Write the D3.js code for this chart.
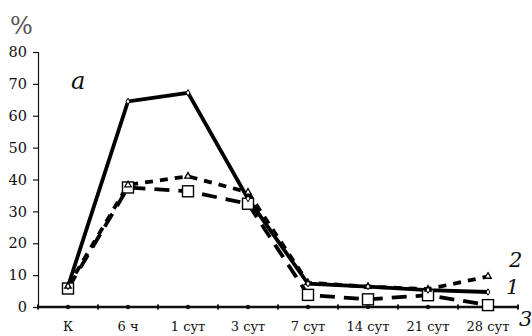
<!DOCTYPE html>
<html>
<head>
<meta charset="utf-8">
<script src="https://cdn.jsdelivr.net/npm/d3@7"></script>
<style>
  html, body { margin: 0; padding: 0; background: #fff; }
  svg { display: block; }
  text { font-family: "DejaVu Serif", "Liberation Serif", serif; fill: #111; }
</style>
</head>
<body>
<svg id="chart" width="532" height="336"></svg>
<script>
// Time points after exposure
const categories = ["К", "6 ч", "1 сут", "3 сут", "7 сут", "14 сут", "21 сут", "28 сут"];

// Series values, %
const series1 = [6.5, 64.5, 67.2, 34, 7.3, 6.4, 5.3, 4.7];
const series2 = [6.5, 38.3, 41, 36, 7.6, 6.4, 5.6, 9.6];
const series3 = [5.8, 37.5, 36.3, 32.4, 3.8, 2.4, 3.7, 0.6];

const yTicks = [0, 10, 20, 30, 40, 50, 60, 70, 80];

const svg = d3.select("#chart");
const margin = { left: 38, right: 14, top: 52, bottom: 29 };
const W = 532, H = 336;
const serif = "DejaVu Serif, Liberation Serif, serif";

const x = d3.scaleBand().domain(categories).range([margin.left, W - margin.right]);
const y = d3.scaleLinear().domain([0, 80]).range([H - margin.bottom, margin.top]);
const cx = d => x(d) + x.bandwidth() / 2;

// Y axis
const yAxis = svg.append("g")
  .attr("transform", `translate(${margin.left},0)`)
  .call(d3.axisLeft(y).tickValues(yTicks).tickSize(5).tickPadding(6));
yAxis.attr("font-family", serif);
yAxis.select(".domain").attr("stroke", "#111").attr("stroke-width", 1.2);
yAxis.selectAll(".tick line").attr("stroke", "#111").attr("stroke-width", 1.2);
yAxis.selectAll(".tick text").style("font-size", "14.5px").attr("fill", "#111");

svg.append("text").attr("x", 10).attr("y", 34).style("font-size", "24px").style("fill", "#555").text("%");

// X axis with ticks crossing at band boundaries
const xAxis = svg.append("g").attr("transform", `translate(0,${y(0)})`);
xAxis.append("line")
  .attr("x1", margin.left).attr("x2", W - margin.right)
  .attr("stroke", "#111").attr("stroke-width", 2.4);
const bounds = categories.map(c => x(c)).concat([x(categories[categories.length - 1]) + x.bandwidth()]);
xAxis.selectAll("line.tk").data(bounds).join("line").attr("class", "tk")
  .attr("x1", d => d).attr("x2", d => d).attr("y1", -2.5).attr("y2", 2.5)
  .attr("stroke", "#111").attr("stroke-width", 2);
xAxis.selectAll("circle.dot").data(categories).join("circle").attr("class", "dot")
  .attr("cx", cx).attr("r", 2.2).attr("fill", "#111");
xAxis.selectAll("text").data(categories).join("text")
  .attr("x", cx).attr("y", 24).attr("text-anchor", "middle")
  .style("font-size", "13px").text(d => d);

const line = d3.line().x((d, i) => cx(categories[i])).y(d => y(d));

// Series 3: long dashes, square markers
svg.append("path").datum(series3).attr("d", line)
  .attr("fill", "none").attr("stroke", "#000").attr("stroke-width", 3.8)
  .attr("stroke-dasharray", "15,9");
// Series 2: short dashes, triangle markers
svg.append("path").datum(series2).attr("d", line)
  .attr("fill", "none").attr("stroke", "#000").attr("stroke-width", 3.8)
  .attr("stroke-dasharray", "8,7");
// Series 1: solid, small diamond markers
svg.append("path").datum(series1).attr("d", line)
  .attr("fill", "none").attr("stroke", "#000").attr("stroke-width", 3.8);

svg.selectAll("rect.s3").data(series3).join("rect").attr("class", "s3")
  .attr("x", (d, i) => cx(categories[i]) - 5.5).attr("y", d => y(d) - 5.5)
  .attr("width", 11).attr("height", 11)
  .attr("fill", "#fff").attr("stroke", "#000").attr("stroke-width", 1.4);

const tri = d3.symbol().type(d3.symbolTriangle).size(18);
svg.selectAll("path.s2").data(series2).join("path").attr("class", "s2")
  .attr("transform", (d, i) => `translate(${cx(categories[i])},${y(d)})`)
  .attr("d", tri).attr("fill", "#fff").attr("stroke", "#000").attr("stroke-width", 1.3);

const dia = d3.symbol().type(d3.symbolDiamond).size(12);
svg.selectAll("path.s1").data(series1).join("path").attr("class", "s1")
  .attr("transform", (d, i) => `translate(${cx(categories[i])},${y(d)})`)
  .attr("d", dia).attr("fill", "#fff").attr("stroke", "#000").attr("stroke-width", 1);

// Series numbers and panel letter
const lastX = cx(categories[categories.length - 1]);
svg.append("text").attr("x", lastX + 21).attr("y", y(series2[7]) - 9)
  .style("font-size", "21px").style("font-style", "italic").text("2");
svg.append("text").attr("x", lastX + 18).attr("y", y(series1[7]) + 2)
  .style("font-size", "21px").style("font-style", "italic").text("1");
svg.append("text").attr("x", W - margin.right + 1).attr("y", y(0) + 19)
  .style("font-size", "21px").style("font-style", "italic").text("3");
svg.append("text").attr("x", 71).attr("y", 89)
  .style("font-size", "24px").style("font-style", "italic").text("a");
</script>
</body>
</html>
